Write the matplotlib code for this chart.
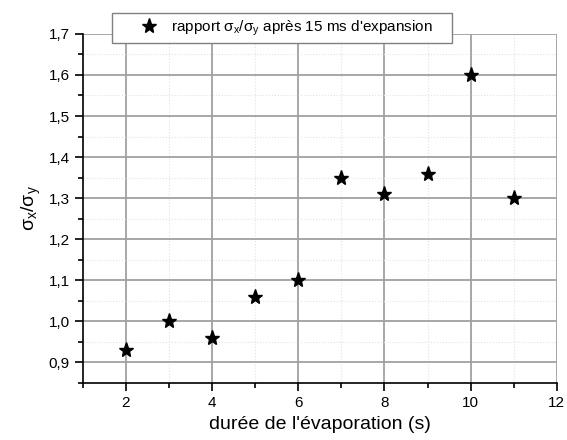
import matplotlib
matplotlib.use('Agg')
import matplotlib.pyplot as plt
from matplotlib.patches import Rectangle
from matplotlib.ticker import MultipleLocator, FuncFormatter

plt.rcParams['font.family'] = ['Liberation Sans', 'DejaVu Sans']
plt.rcParams['mathtext.fontset'] = 'custom'
plt.rcParams['mathtext.rm'] = 'Liberation Sans'
plt.rcParams['mathtext.it'] = 'Liberation Sans'

# durée de l'évaporation (s) et rapport sigma_x / sigma_y
duree = [2, 3, 4, 5, 6, 7, 8, 9, 10, 11]
rapport = [0.93, 1.00, 0.96, 1.06, 1.10, 1.35, 1.31, 1.36, 1.60, 1.30]

fig = plt.figure(figsize=(5.67, 4.4), dpi=100)
ax = fig.add_axes([0.146, 0.1295, 0.836, 0.7935])

ax.plot(duree, rapport, linestyle='none', marker='*', markersize=11,
        color='black',
        label="rapport $\\mathregular{\\sigma_x/\\sigma_y}$ après 15 ms d'expansion",
        zorder=5)

ax.set_xlim(1, 12)
ax.set_ylim(0.85, 1.7)
ax.xaxis.set_major_locator(MultipleLocator(2))
ax.xaxis.set_minor_locator(MultipleLocator(1))
ax.yaxis.set_major_locator(MultipleLocator(0.1))
ax.yaxis.set_minor_locator(MultipleLocator(0.05))
ax.yaxis.set_major_formatter(FuncFormatter(lambda v, p: f'{v:.1f}'.replace('.', ',')))

ax.grid(which='major', color='#a0a0a0', linewidth=1.3, linestyle='-')
ax.grid(which='minor', color='#e2e2e2', linewidth=0.8, linestyle=':')
ax.set_axisbelow(True)

for s in ['top', 'right']:
    ax.spines[s].set_visible(False)
ax.spines['left'].set_linewidth(1.2)
ax.spines['bottom'].set_linewidth(1.2)
ax.tick_params(which='major', direction='out', length=6, width=1.2, labelsize=11)
ax.tick_params(which='minor', direction='out', length=3.5, width=1.2)

ax.set_xlabel("durée de l'évaporation (s)", fontsize=14)
ax.set_ylabel('$\\mathregular{\\sigma_x/\\sigma_y}$', fontsize=14)

# cadre de la légende, dessiné à part pour avoir les marges de l'original
fig.patches.append(Rectangle((112 / 567, 1 - 43 / 440), 340 / 567, 30 / 440,
                             transform=fig.transFigure, facecolor='white',
                             edgecolor='#808080', linewidth=1.0, zorder=3))
handles, labels = ax.get_legend_handles_labels()
leg = fig.legend(handles, labels, loc='center',
                 bbox_to_anchor=(285 / 567, 1 - 28 / 440),
                 fontsize=11, frameon=False,
                 handlelength=1.5, handletextpad=0.7, borderaxespad=0)
leg.set_zorder(4)

fig.savefig('out.png', dpi=100)
